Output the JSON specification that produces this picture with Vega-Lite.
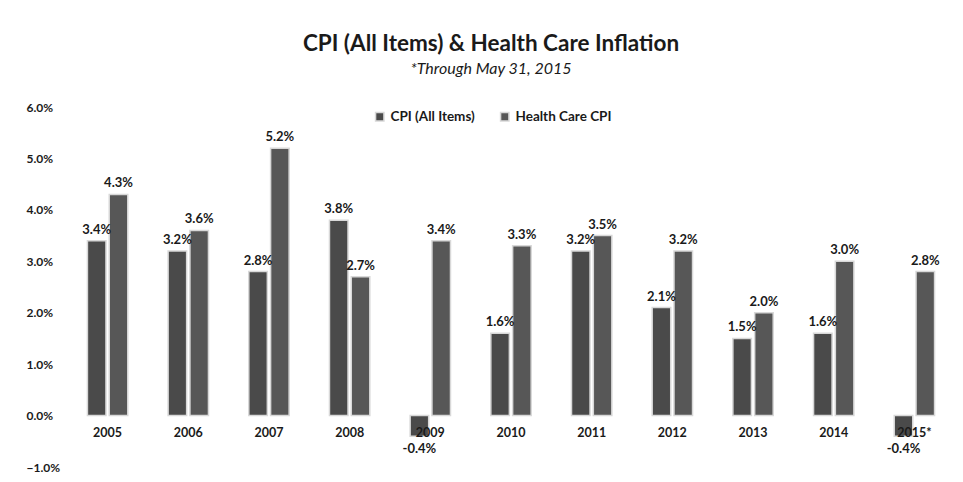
{
  "$schema": "https://vega.github.io/schema/vega-lite/v6.json",
  "width": 963,
  "height": 482,
  "autosize": {"type": "fit", "contains": "padding"},
  "padding": {"left": 26, "top": 32, "right": 1, "bottom": 9},
  "background": "white",
  "title": {
    "text": "CPI (All Items) & Health Care Inflation",
    "subtitle": "*Through May 31, 2015",
    "font": "Lato",
    "fontSize": 22.5,
    "fontWeight": "bold",
    "color": "#1a1a1a",
    "subtitleFont": "Lato",
    "subtitleFontSize": 16,
    "subtitleFontStyle": "italic",
    "subtitleColor": "#1a1a1a",
    "subtitlePadding": 6,
    "anchor": "middle",
    "dx": -20,
    "offset": 24
  },
  "data": {
    "values": [
      {"year": "2005", "series": "CPI (All Items)", "value": 0.034, "label": "3.4%"},
      {"year": "2005", "series": "Health Care CPI", "value": 0.043, "label": "4.3%"},
      {"year": "2006", "series": "CPI (All Items)", "value": 0.032, "label": "3.2%"},
      {"year": "2006", "series": "Health Care CPI", "value": 0.036, "label": "3.6%"},
      {"year": "2007", "series": "CPI (All Items)", "value": 0.028, "label": "2.8%"},
      {"year": "2007", "series": "Health Care CPI", "value": 0.052, "label": "5.2%"},
      {"year": "2008", "series": "CPI (All Items)", "value": 0.038, "label": "3.8%"},
      {"year": "2008", "series": "Health Care CPI", "value": 0.027, "label": "2.7%"},
      {"year": "2009", "series": "CPI (All Items)", "value": -0.004, "label": "-0.4%"},
      {"year": "2009", "series": "Health Care CPI", "value": 0.034, "label": "3.4%"},
      {"year": "2010", "series": "CPI (All Items)", "value": 0.016, "label": "1.6%"},
      {"year": "2010", "series": "Health Care CPI", "value": 0.033, "label": "3.3%"},
      {"year": "2011", "series": "CPI (All Items)", "value": 0.032, "label": "3.2%"},
      {"year": "2011", "series": "Health Care CPI", "value": 0.035, "label": "3.5%"},
      {"year": "2012", "series": "CPI (All Items)", "value": 0.021, "label": "2.1%"},
      {"year": "2012", "series": "Health Care CPI", "value": 0.032, "label": "3.2%"},
      {"year": "2013", "series": "CPI (All Items)", "value": 0.015, "label": "1.5%"},
      {"year": "2013", "series": "Health Care CPI", "value": 0.020, "label": "2.0%"},
      {"year": "2014", "series": "CPI (All Items)", "value": 0.016, "label": "1.6%"},
      {"year": "2014", "series": "Health Care CPI", "value": 0.030, "label": "3.0%"},
      {"year": "2015*", "series": "CPI (All Items)", "value": -0.004, "label": "-0.4%"},
      {"year": "2015*", "series": "Health Care CPI", "value": 0.028, "label": "2.8%"}
    ]
  },
  "encoding": {
    "x": {
      "field": "year",
      "type": "nominal",
      "sort": null,
      "scale": {"paddingInner": 0.5, "paddingOuter": 0.34},
      "axis": null
    },
    "y": {
      "field": "value",
      "type": "quantitative",
      "scale": {"domain": [-0.01, 0.06], "nice": false},
      "axis": {
        "format": ".1%",
        "values": [-0.01, 0, 0.01, 0.02, 0.03, 0.04, 0.05, 0.06],
        "labelOverlap": false,
        "labelBound": false,
        "grid": false,
        "domain": false,
        "ticks": false,
        "title": null,
        "labelFont": "Lato",
        "labelFontSize": 12,
        "labelFontWeight": "bold",
        "labelColor": "#1a1a1a",
        "labelAlign": "left",
        "labelPadding": 34
      }
    }
  },
  "layer": [
    {
      "mark": {"type": "bar", "stroke": "#d8d8d8", "strokeWidth": 1.5},
      "encoding": {
        "xOffset": {"field": "series", "type": "nominal", "scale": {"paddingInner": 0.15}},
        "color": {
          "field": "series",
          "type": "nominal",
          "scale": {"domain": ["CPI (All Items)", "Health Care CPI"], "range": ["#4a4a4a", "#575757"]},
          "legend": {
            "title": null,
            "orient": "none",
            "direction": "horizontal",
            "legendX": 313,
            "legendY": 3,
            "symbolType": "square",
            "symbolSize": 70,
            "labelFont": "Lato",
            "labelFontSize": 13.5,
            "labelFontWeight": "bold",
            "labelColor": "#1a1a1a",
            "columnPadding": 22
          }
        }
      }
    },
    {
      "transform": [{"filter": "datum.value >= 0"}],
      "mark": {"type": "text", "dy": -11, "font": "Lato", "fontSize": 13, "fontWeight": "bold", "color": "#1a1a1a"},
      "encoding": {
        "xOffset": {"field": "series", "type": "nominal", "scale": {"paddingInner": 0.15}},
        "text": {"field": "label"}
      }
    },
    {
      "transform": [{"filter": "datum.value < 0"}],
      "mark": {"type": "text", "dy": 13, "font": "Lato", "fontSize": 13, "fontWeight": "bold", "color": "#1a1a1a"},
      "encoding": {
        "xOffset": {"field": "series", "type": "nominal", "scale": {"paddingInner": 0.15}},
        "text": {"field": "label"}
      }
    },
    {
      "transform": [{"filter": "datum.series == 'CPI (All Items)'"}],
      "mark": {"type": "text", "dy": 17, "font": "Lato", "fontSize": 12.5, "fontWeight": "bold", "color": "#1a1a1a"},
      "encoding": {
        "y": {"datum": 0},
        "text": {"field": "year"}
      }
    }
  ],
  "config": {"view": {"stroke": null}}
}
